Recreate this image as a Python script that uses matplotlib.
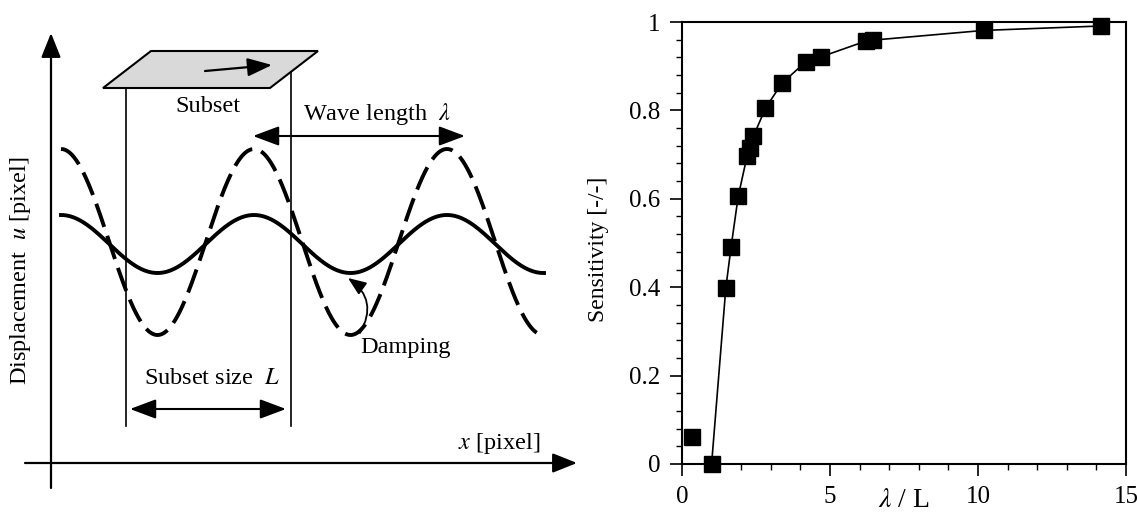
import numpy as np
import matplotlib
matplotlib.use("Agg")
import matplotlib.pyplot as plt
from matplotlib.patches import Polygon, FancyArrowPatch
from matplotlib.ticker import MultipleLocator

plt.rcParams['font.family'] = ['Liberation Serif', 'DejaVu Serif']
plt.rcParams['mathtext.fontset'] = 'stix'

# ── data (right panel) ────────────────────────────────────────────
lam_ratio = [0.34, 1.0, 1.48, 1.66, 1.9, 2.2, 2.29, 2.41, 2.82, 3.37,
             4.18, 4.69, 6.22, 6.46, 10.2, 14.17]
sensitivity = [0.062, 0.0, 0.398, 0.492, 0.606, 0.697, 0.715, 0.741, 0.805,
               0.861, 0.91, 0.921, 0.957, 0.959, 0.981, 0.991]
x_ticks = [0, 5, 10, 15]
y_ticks = [0, 0.2, 0.4, 0.6, 0.8, 1]
y_tick_labels = ['0', '0.2', '0.4', '0.6', '0.8', '1']

# ── schematic parameters (left panel, pixel space) ────────────────
WAVE_X0, WAVE_X1 = 61, 544
WAVELENGTH = 193
SOLID_MID, SOLID_AMP = 244, 29
DASH_MID, DASH_AMP = 242, 93

W, H = 1137, 513
fig = plt.figure(figsize=(W / 100, H / 100), dpi=100)

# ── left: schematic ───────────────────────────────────────────────
axl = fig.add_axes([0, 0, 580 / W, 1])
axl.set_xlim(0, 580)
axl.set_ylim(H, 0)
axl.axis('off')

def arrow(ax, p0, p1, style, lw=1.5, scale=20, **kw):
    a = FancyArrowPatch(p0, p1, arrowstyle=style, mutation_scale=scale,
                        lw=lw, color='k', shrinkA=0, shrinkB=0, **kw)
    ax.add_patch(a)

# coordinate axes
arrow(axl, (51, 488), (51, 33), '-|>,head_length=0.75,head_width=0.3', lw=1.6)
arrow(axl, (25, 463), (577, 463), '-|>,head_length=0.75,head_width=0.3', lw=1.6)

# waves
xs = np.linspace(WAVE_X0, WAVE_X1, 600)
phase = 2 * np.pi * (xs - WAVE_X0) / WAVELENGTH
axl.plot(xs, DASH_MID - DASH_AMP * np.cos(phase), color='k', lw=2.8,
         dashes=(6.3, 2.4), solid_capstyle='butt')
axl.plot(xs, SOLID_MID - SOLID_AMP * np.cos(phase), color='k', lw=2.8)

# subset plate
plate = Polygon([(151, 51), (318, 51), (270, 88), (103, 88)], closed=True,
                facecolor='#d9d9d9', edgecolor='k', lw=1.5)
axl.add_patch(plate)
arrow(axl, (205, 71), (272, 65), '-|>,head_length=0.75,head_width=0.28', lw=1.6)

# vertical guide lines
axl.plot([125.5, 125.5], [88, 426], color='k', lw=1.2)
axl.plot([291, 291], [72, 426], color='k', lw=1.2)

# dimension arrows
arrow(axl, (130, 409), (286, 409), '<|-|>,head_length=0.8,head_width=0.3', lw=1.5)
arrow(axl, (253, 136), (465, 136), '<|-|>,head_length=0.8,head_width=0.3', lw=1.5)

# damping arrow
arrow(axl, (360, 333), (348, 278), '-|>,head_length=0.55,head_width=0.22', lw=1.3,
      connectionstyle='arc3,rad=0.45')

fs = 17.5
axl.text(208, 107, 'Subset', fontsize=fs, ha='center', va='center')
axl.text(377, 114, r'Wave length  $\lambda$', fontsize=fs, ha='center', va='center')
axl.text(212, 378, r'Subset size  $L$', fontsize=fs, ha='center', va='center')
axl.text(406, 347, 'Damping', fontsize=fs, ha='center', va='center')
axl.text(499, 443, r'$x$ [pixel]', fontsize=fs, ha='center', va='center')
axl.text(21, 271, r'Displacement  $u$ [pixel]', fontsize=fs, ha='center',
         va='center', rotation=90)

# ── right: sensitivity ────────────────────────────────────────────
axr = fig.add_axes([682 / W, (H - 464) / H, 444 / W, 442 / H])
axr.plot(lam_ratio[1:], sensitivity[1:], color='k', lw=1.2, zorder=2)
axr.plot(lam_ratio, sensitivity, 's', color='k', markersize=11.5,
         clip_on=False, zorder=3)
axr.set_xlim(0, 15)
axr.set_ylim(0, 1)
axr.set_xticks(x_ticks)
axr.set_yticks(y_ticks)
axr.set_yticklabels(y_tick_labels)
axr.xaxis.set_minor_locator(MultipleLocator(1))
axr.yaxis.set_minor_locator(MultipleLocator(0.04))
axr.tick_params(which='major', direction='out', length=8.5, width=1.2,
                labelsize=18, pad=7)
axr.tick_params(which='minor', direction='out', length=4, width=1.0)
for sp in axr.spines.values():
    sp.set_linewidth(1.5)
axr.set_ylabel('Sensitivity [-/-]', fontsize=17)
axr.yaxis.set_label_coords(-0.165, 0.485)
axr.set_xlabel(r'$\lambda$ / L', fontsize=20)
axr.xaxis.set_label_coords(0.5, -0.055)
axr.xaxis.label.set_va('top')

fig.savefig('out.png', dpi=100)
